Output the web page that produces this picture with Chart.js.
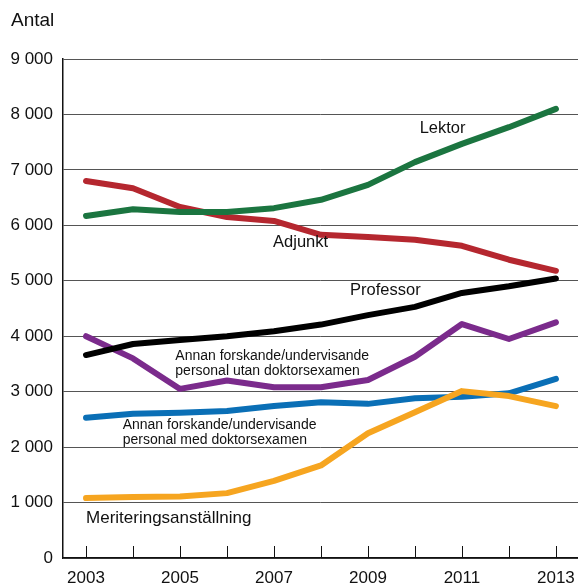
<!DOCTYPE html>
<html>
<head>
<meta charset="utf-8">
<script src="https://cdn.jsdelivr.net/npm/chart.js@4/dist/chart.umd.min.js"></script>
<style>
  html, body { margin: 0; padding: 0; background: #fff; }
  #wrap { width: 578px; height: 585px; position: relative; }
</style>
</head>
<body>
<div id="wrap"><canvas id="chart"></canvas></div>
<script>
// Data
const years = [2003, 2004, 2005, 2006, 2007, 2008, 2009, 2010, 2011, 2012, 2013];
const yTicks = [0, 1000, 2000, 3000, 4000, 5000, 6000, 7000, 8000, 9000];

const lektor     = [6170, 6290, 6240, 6240, 6310, 6460, 6730, 7140, 7470, 7770, 8100];
const adjunkt    = [6800, 6670, 6330, 6150, 6080, 5830, 5790, 5740, 5630, 5380, 5180];
const professor  = [3660, 3860, 3930, 4000, 4090, 4210, 4380, 4530, 4780, 4900, 5040];
const annanUtan  = [4000, 3600, 3050, 3200, 3080, 3080, 3210, 3630, 4220, 3950, 4250];
const annanMed   = [2530, 2600, 2620, 2650, 2740, 2810, 2780, 2880, 2910, 2970, 3230];
const meritering = [1080, 1100, 1110, 1170, 1390, 1670, 2250, 2630, 3010, 2920, 2740];

// Series labels, placed in data units (year, value)
const seriesLabels = [
  { text: ['Lektor'], x: 2010.1, y: 7740, size: 16.5 },
  { text: ['Adjunkt'], x: 2006.98, y: 5700, size: 16.5 },
  { text: ['Professor'], x: 2008.62, y: 4820, size: 16.5 },
  { text: ['Annan forskande/undervisande', 'personal utan doktorsexamen'], x: 2004.9, y: 3640, size: 14 },
  { text: ['Annan forskande/undervisande', 'personal med doktorsexamen'], x: 2003.78, y: 2390, size: 14 },
  { text: ['Meriteringsanställning'], x: 2003, y: 720, size: 17 },
];

const FONT = '"Liberation Sans", Arial, Helvetica, sans-serif';

function pts(vals) {
  return years.map((y, i) => ({ x: y, y: vals[i] }));
}

function line(label, vals, color, order) {
  return {
    label,
    data: pts(vals),
    borderColor: color,
    backgroundColor: color,
    borderWidth: 6,
    pointRadius: 0,
    tension: 0,
    borderCapStyle: 'round',
    borderJoinStyle: 'round',
    order,
  };
}

const fmtThousands = v => String(v).replace(/\B(?=(\d{3})+(?!\d))/g, ' ');

// Extra drawing: title, bottom tick marks, series labels
const extras = {
  id: 'extras',
  afterDraw(chart) {
    const { ctx, scales: { x, y }, chartArea } = chart;
    ctx.save();
    ctx.fillStyle = '#111';
    ctx.textBaseline = 'middle';
    ctx.textAlign = 'left';
    ctx.font = `19px ${FONT}`;
    ctx.fillText('Antal', 11, 21);

    // tick marks pointing up from the x axis
    ctx.strokeStyle = '#111';
    ctx.lineWidth = 1;
    years.forEach(yr => {
      const px = Math.round(x.getPixelForValue(yr)) + 0.5;
      ctx.beginPath();
      ctx.moveTo(px, chartArea.bottom);
      ctx.lineTo(px, chartArea.bottom - 12);
      ctx.stroke();
    });

    seriesLabels.forEach(l => {
      ctx.font = `${l.size}px ${FONT}`;
      const px = x.getPixelForValue(l.x);
      const py = y.getPixelForValue(l.y);
      const lh = l.size + 0.5;
      l.text.forEach((t, i) => ctx.fillText(t, px, py + i * lh));
    });
    ctx.restore();
  },
};

new Chart(document.getElementById('chart'), {
  type: 'line',
  data: {
    datasets: [
      line('Meriteringsanställning', meritering, '#f6a520', 1),
      line('Lektor', lektor, '#1b7540', 2),
      line('Professor', professor, '#000000', 3),
      line('Annan utan doktorsexamen', annanUtan, '#7b2b8c', 4),
      line('Annan med doktorsexamen', annanMed, '#0a6fb6', 5),
      line('Adjunkt', adjunkt, '#b5272f', 6),
    ],
  },
  options: {
    responsive: true,
    maintainAspectRatio: false,
    animation: false,
    events: [],
    layout: { padding: { top: 59, right: 0, left: 0, bottom: 0 } },
    plugins: {
      legend: { display: false },
      tooltip: { enabled: false },
    },
    scales: {
      x: {
        type: 'linear',
        min: 2002.51,
        max: 2013.47,
        afterBuildTicks: s => { s.ticks = years.map(v => ({ value: v })); },
        afterFit: s => { s.height = 27; s.paddingLeft = 0; s.paddingRight = 0; },
        grid: { display: false, drawTicks: false },
        border: { color: '#111', width: 1.5 },
        ticks: {
          autoSkip: false,
          maxRotation: 0,
          padding: 10,
          color: '#111',
          font: { family: FONT, size: 17 },
          callback: v => (v % 2 === 1 ? String(v) : ''),
        },
      },
      y: {
        min: 0,
        max: 9000,
        afterBuildTicks: s => { s.ticks = yTicks.map(v => ({ value: v })); },
        afterFit: s => { s.width = 63; s.paddingTop = 0; s.paddingBottom = 0; },
        grid: { color: '#555', lineWidth: 1, drawTicks: false },
        border: { color: '#111', width: 1.5 },
        ticks: {
          padding: 10,
          color: '#111',
          font: { family: FONT, size: 17 },
          callback: v => fmtThousands(v),
        },
      },
    },
  },
  plugins: [extras],
});
</script>
</body>
</html>
